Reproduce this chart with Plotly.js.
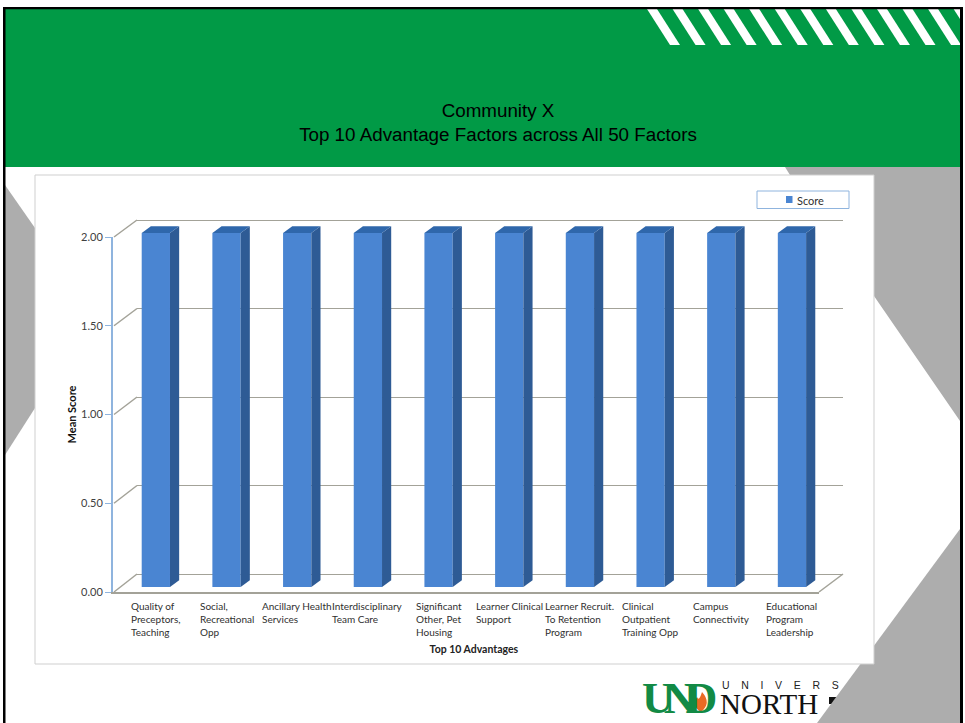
<!DOCTYPE html>
<html>
<head>
<meta charset="utf-8">
<title>Community X</title>
<script src="https://cdn.plot.ly/plotly-3.0.1.min.js"></script>
<style>
  html, body { margin: 0; padding: 0; background: #fff; }
  #chart { width: 965px; height: 723px; }
</style>
</head>
<body>
<div id="chart"></div>
<script>
// Chart data
const factors = [
  "Quality of<br>Preceptors,<br>Teaching",
  "Social,<br>Recreational<br>Opp",
  "Ancillary Health<br>Services",
  "Interdisciplinary<br>Team Care",
  "Significant<br>Other, Pet<br>Housing",
  "Learner Clinical<br>Support",
  "Learner Recruit.<br>To Retention<br>Program",
  "Clinical<br>Outpatient<br>Training Opp",
  "Campus<br>Connectivity",
  "Educational<br>Program<br>Leadership"
];
const scores = [2, 2, 2, 2, 2, 2, 2, 2, 2, 2];
const scoreTicks = [0, 0.5, 1, 1.5, 2];
const seriesName = "Score";
const yAxisTitle = "Mean Score";
const xAxisTitle = "Top 10 Advantages";
const titleLines = ["Community X", "Top 10 Advantage Factors across All 50 Factors"];

// Canvas helpers: slide furniture is laid out in page pixels
const W = 965, H = 723;
const px = x => x / W;
const py = y => 1 - y / H;
const poly = pts => "M" + pts.map(p => px(p[0]) + "," + py(p[1])).join("L") + "Z";
const slideShape = (pts, color) => ({
  type: "path", xref: "paper", yref: "paper", layer: "below",
  path: poly(pts), fillcolor: color, line: { width: 0 }
});
const rect = (x0, y0, x1, y1) => [[x0, y0], [x1, y0], [x1, y1], [x0, y1]];

const GREEN = "#019a46", GREY = "#adadad", BORDER = "#000000";
const GRID = "#a3a298", AXIS_BLUE = "#8fb4de", BAR = "#4a85d2";

// Three depth planes of the pseudo-3D plot, in page pixels
const wall = { x0: 137, x1: 843, y0: 574, y2: 220 };
const mid = { x0: 120.5, x1: 827.3, y0: 587, y2: 233 };
const front = { x0: 113, x1: 819, y0: 592, y2: 237 };
const atValue = (plane, v) => plane.y0 + (plane.y2 - plane.y0) * v / 2;

// Slide background
const shapes = [];
shapes.push(slideShape(rect(5, 9, 960, 167), GREEN));
for (let i = 0; i < 13; i++) {
  const t = 647 + 25.55 * i;
  shapes.push(slideShape([[t, 9], [t + 10, 9], [t + 33, 45], [t + 23, 45]], "#ffffff"));
}
shapes.push(slideShape(rect(963, 0, 990, 60), "#ffffff"));
shapes.push(slideShape([[5, 185], [35, 228], [35, 408], [5, 455]], GREY));
shapes.push(slideShape([[785, 167], [960, 167], [960, 421], [874, 296], [874, 175], [790, 175]], GREY));
shapes.push(slideShape(rect(829, 697, 838, 704), "#111111"));
shapes.push(slideShape([[960, 529], [960, 723], [817, 723]], GREY));
shapes.push({
  type: "rect", xref: "paper", yref: "paper", layer: "below",
  x0: px(35), x1: px(874), y0: py(664), y1: py(175),
  fillcolor: "#ffffff", line: { color: "#cfcfcf", width: 1 }
});
shapes.push(slideShape(rect(3, 7, 963, 9.3), BORDER));
shapes.push(slideShape(rect(3, 7, 5.5, 723), BORDER));
shapes.push(slideShape(rect(960, 7, 963, 723), BORDER));

// Legend box and key
shapes.push({
  type: "rect", xref: "paper", yref: "paper", layer: "below",
  x0: px(757), x1: px(849), y0: py(208.5), y1: py(191),
  fillcolor: "#ffffff", line: { color: AXIS_BLUE, width: 1 }
});
shapes.push(slideShape(rect(786, 196, 792.5, 203), BAR));

// Logo flame
shapes.push({
  type: "path", xref: "paper", yref: "paper", layer: "below", line: { width: 0 }, fillcolor: "#ea6a24",
  path: "M" + px(701) + "," + py(712) + "Q" + px(691) + "," + py(706) + " " + px(697) + "," + py(697) +
        "Q" + px(699) + "," + py(702) + " " + px(702) + "," + py(692) +
        "Q" + px(712) + "," + py(703) + " " + px(701) + "," + py(712) + "Z"
});

// Side walls and floor edges joining the front plane to the back wall
scoreTicks.forEach(v => {
  shapes.push({
    type: "line", xref: "paper", yref: "paper", layer: "below",
    x0: px(front.x0 + 1), y0: py(atValue(front, v)), x1: px(wall.x0), y1: py(atValue(wall, v)),
    line: { color: GRID, width: 1.5 }
  });
});
shapes.push({
  type: "line", xref: "paper", yref: "paper", layer: "below",
  x0: px(front.x1), y0: py(front.y0), x1: px(wall.x1), y1: py(wall.y0),
  line: { color: GRID, width: 1.5 }
});

// Depth faces of each bar, placed on the bar plane's own scales
const barWidth = 0.4, depthX = 0.13, depthY = 0.038;
scores.forEach((v, i) => {
  const l = i - barWidth / 2, r = i + barWidth / 2;
  shapes.push({
    type: "path", xref: "x2", yref: "y2", layer: "above", line: { width: 0 }, fillcolor: "#2e5b95",
    path: `M${r},0L${r + depthX},${depthY}L${r + depthX},${v + depthY}L${r},${v}Z`
  });
  shapes.push({
    type: "path", xref: "x2", yref: "y2", layer: "above", line: { width: 0 }, fillcolor: "#2f67ab",
    path: `M${l},${v}L${l + depthX},${v + depthY}L${r + depthX},${v + depthY}L${r},${v}Z`
  });
});

// Category labels: left-aligned blocks centred on their bars
const labelFont = { family: "Lato, sans-serif", size: 10, color: "#303030" };
const annotations = factors.map((f, i) => ({
  xref: "x2", yref: "paper", x: i, y: py(598), xanchor: "center", yanchor: "top",
  text: f, align: "left", showarrow: false, font: labelFont
}));

const leftText = (text, x, y, family, size, color, weight) => ({
  xref: "paper", yref: "paper", x: px(x), y: py(y), xanchor: "left", yanchor: "middle",
  borderpad: 0, text: text, showarrow: false,
  font: { family: family, size: size, color: color, weight: weight }
});

// Legend entry
annotations.push(leftText(seriesName, 796, 200, "Lato, sans-serif", 11, "#303030", 400));

// Logo wordmark
annotations.push(leftText('<span style="letter-spacing:-10px">UND</span>', 641, 698, "Liberation Serif", 44, "#128a45", 700));
annotations.push(leftText("NORTH", 719, 704, "Liberation Serif", 29, "#111111", 400));
annotations.push(leftText("U N I V E R S".split(" ").join("\u00a0\u00a0\u00a0\u00a0"), 721, 685, "Liberation Sans", 10.5, "#222222", 400));

const planeX = p => [px(p.x0), px(p.x1)];
const planeY = p => [py(p.y0), py(p.y2)];

// The wall and bar planes run a little past their value range, so the edge
// gridlines and the top faces of the bars stay inside the plot area
const headroom = 0.1;
const perUnit = p => (p.y0 - p.y2) / 2;
const wallPad = headroom * perUnit(wall);
const midPad = headroom * perUnit(mid);

const data = [
  // Back wall plane carries the horizontal gridlines
  { type: "scatter", mode: "none", x: [0, 1], y: [0, 2], xaxis: "x", yaxis: "y", showlegend: false, hoverinfo: "skip" },
  // Bars
  {
    type: "bar", name: seriesName, x: factors, y: scores, xaxis: "x2", yaxis: "y2",
    width: barWidth, marker: { color: BAR, line: { width: 0 } }, showlegend: false
  },
  // Front plane carries the value axis and floor edge
  { type: "scatter", mode: "none", x: [0, 1], y: [0, 2], xaxis: "x3", yaxis: "y3", showlegend: false, hoverinfo: "skip" }
];

const hidden = { showticklabels: false, ticks: "", showgrid: false, zeroline: false, showline: false };

const layout = {
  width: W, height: H,
  margin: { l: 0, r: 0, t: 0, b: 0, pad: 0 },
  paper_bgcolor: "#ffffff",
  plot_bgcolor: "rgba(0,0,0,0)",
  title: {
    text: titleLines.join("<br>"),
    x: px(498), xanchor: "center", y: py(117), yanchor: "top",
    font: { family: "Liberation Sans", size: 18.8, color: "#000000" }
  },
  xaxis: Object.assign({}, hidden, { domain: planeX(wall), range: [0, 1], anchor: "y" }),
  yaxis: Object.assign({}, hidden, {
    domain: [py(wall.y0 + wallPad), py(wall.y2 - wallPad)], range: [-headroom, 2 + headroom], anchor: "x",
    showgrid: true, gridcolor: GRID, gridwidth: 1, tickvals: scoreTicks
  }),
  xaxis2: Object.assign({}, hidden, {
    domain: planeX(mid), range: [-0.5, 9.5], type: "category", anchor: "y2",
    categoryorder: "array", categoryarray: factors,
    title: { text: xAxisTitle, standoff: 58, font: { family: "Lato, sans-serif", size: 10.5, color: "#222222", weight: 700 } }
  }),
  yaxis2: Object.assign({}, hidden, {
    domain: [py(mid.y0), py(mid.y2 - midPad)], range: [0, 2 + headroom], anchor: "x2"
  }),
  xaxis3: Object.assign({}, hidden, {
    domain: planeX(front), range: [0, 1], anchor: "y3",
    showline: true, linecolor: GRID, linewidth: 2
  }),
  yaxis3: {
    domain: planeY(front), range: [0, 2], anchor: "x3", side: "left",
    tickvals: scoreTicks, tickformat: ".2f", ticks: "outside", ticklen: 6, tickcolor: AXIS_BLUE,
    tickfont: { family: "Lato, sans-serif", size: 11, color: "#404040" },
    showline: true, linecolor: AXIS_BLUE, linewidth: 2, showgrid: false, zeroline: false,
    title: { text: yAxisTitle, standoff: 2, font: { family: "Lato, sans-serif", size: 11, color: "#111111", weight: 700 } }
  },
  showlegend: false,
  shapes: shapes,
  annotations: annotations
};

Plotly.newPlot("chart", data, layout, { displayModeBar: false, responsive: false, staticPlot: true });
</script>
</body>
</html>
